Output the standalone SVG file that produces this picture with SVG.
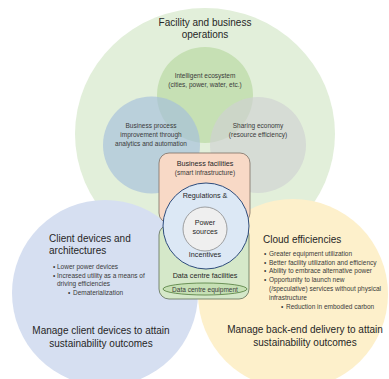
<svg xmlns="http://www.w3.org/2000/svg" width="389" height="379" viewBox="0 0 389 379">
<style>
text{font-family:"Liberation Sans",Arial,sans-serif;fill:#262626}
.h{font-size:10px}
.s{font-size:6.5px;fill:#3a3a3a}
.m{font-size:7.2px}
.c{text-anchor:middle}
</style>
<rect width="389" height="379" fill="#ffffff"/>
<g id="facility">
<ellipse cx="205" cy="134" rx="130" ry="126" fill="#e2efda"/>
<text class="h c" x="205" y="26">Facility and business</text>
<text class="h c" x="205" y="38">operations</text>
</g>
<g id="intelligent">
<circle cx="205" cy="95" r="48" fill="#c6e0b4"/>
<text class="s c" x="205" y="78">Intelligent ecosystem</text>
<text class="s c" x="205" y="87">(cities, power, water, etc.)</text>
</g>
<g id="business-process">
<circle cx="151.5" cy="145" r="48.5" fill="#a5bedc" fill-opacity="0.65"/>
<text class="s c" x="151" y="128">Business process</text>
<text class="s c" x="151" y="137">improvement through</text>
<text class="s c" x="151" y="146">analytics and automation</text>
</g>
<g id="sharing">
<circle cx="258" cy="145" r="48" fill="#cfd1d3" fill-opacity="0.65"/>
<text class="s c" x="258" y="128">Sharing economy</text>
<text class="s c" x="258" y="137">(resource efficiency)</text>
</g>
<g id="client">
<circle cx="105" cy="293" r="93" fill="#d6dff1"/>
<text class="h" x="49" y="242">Client devices and</text>
<text class="h" x="49" y="254">architectures</text>
<text class="s" x="53" y="269">•</text><text class="s" x="57" y="269">Lower power devices</text>
<text class="s" x="53" y="278">•</text><text class="s" x="57" y="278">Increased utility as a means of</text>
<text class="s" x="57" y="286">driving efficiencies</text>
<text class="s" x="68" y="295">•</text><text class="s" x="73" y="295">Dematerialization</text>
<text class="h c" x="101" y="334">Manage client devices to attain</text>
<text class="h c" x="101" y="347">sustainability outcomes</text>
</g>
<g id="cloud">
<circle cx="293" cy="294" r="95" fill="#fdf0cb"/>
<text class="h" x="263" y="243">Cloud efficiencies</text>
<text class="s" x="264" y="256">•</text><text class="s" x="269" y="256">Greater equipment utilization</text>
<text class="s" x="264" y="265">•</text><text class="s" x="269" y="265">Better facility utilization and efficiency</text>
<text class="s" x="264" y="273">•</text><text class="s" x="269" y="273">Ability to embrace alternative power</text>
<text class="s" x="264" y="282">•</text><text class="s" x="269" y="282">Opportunity to launch new</text>
<text class="s" x="269" y="291">(/speculative) services without physical</text>
<text class="s" x="269" y="300">infrastructure</text>
<text class="s" x="281" y="309">•</text><text class="s" x="286" y="309">Reduction in embodied carbon</text>
<text class="h c" x="305" y="333">Manage back-end delivery to attain</text>
<text class="h c" x="305" y="346">sustainability outcomes</text>
</g>
<g id="business-facilities">
<rect x="159" y="153" width="91" height="70" rx="10" fill="#f8d9c6" stroke="#7d6e63" stroke-width="0.8"/>
<text class="m c" x="205" y="166">Business facilities</text>
<text class="s c" x="205" y="175">(smart infrastructure)</text>
</g>
<g id="data-centre-facilities">
<rect x="159" y="225" width="90" height="74" rx="10" fill="#d5e8c9" stroke="#5f6e57" stroke-width="0.8"/>
<text class="m c" x="205" y="278">Data centre facilities</text>
</g>
<g id="regulations">
<circle cx="206" cy="226" r="43" fill="#dce8f5" stroke="#2e4c7c" stroke-width="1"/>
<text class="m c" x="205" y="198">Regulations &amp;</text>
<text class="m c" x="205" y="257">Incentives</text>
</g>
<g id="power">
<circle cx="205" cy="229" r="22" fill="#efefef" stroke="#8a8a8a" stroke-width="0.8"/>
<text class="m c" x="205" y="225">Power</text>
<text class="m c" x="205" y="234">sources</text>
</g>
<g id="equipment">
<ellipse cx="205" cy="289" rx="42" ry="6" fill="#c6e0b4" stroke="#4f7a3a" stroke-width="0.8"/>
<text class="s c" x="205" y="291.5">Data centre equipment</text>
</g>
<g id="connectors"></g>
</svg>
